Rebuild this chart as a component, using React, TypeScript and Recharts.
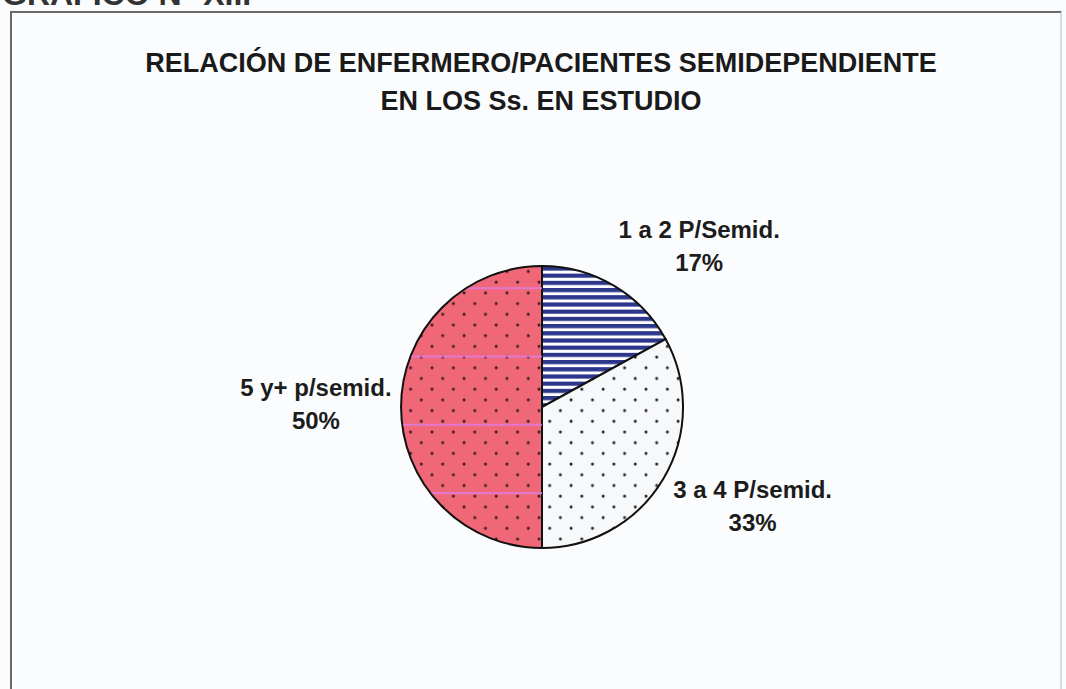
import React from "react";
import { PieChart, Pie, Cell } from "recharts";

const categories = ["1 a 2 P/Semid.", "3 a 4 P/semid.", "5 y+ p/semid."];
const values = [17, 33, 50];
const percentLabels = ["17%", "33%", "50%"];
const titleLines = ["RELACIÓN DE ENFERMERO/PACIENTES SEMIDEPENDIENTE", "EN LOS Ss. EN ESTUDIO"];
const headerText = "GRÁFICO N° XIII";

const data = categories.map((name, i) => ({ name, value: values[i], pct: percentLabels[i] }));

const fills = ["url(#stripes)", "url(#dotsWhite)", "url(#dotsRed)"];
const overlayFills = ["none", "none", "url(#scanLines)"];

const FONT = "'Liberation Sans', Arial, sans-serif";
const LABEL_SIZE = 24;
const LINE_H = 33;

const renderLabel = (props: any) => {
  const { cx, cy, midAngle, outerRadius, index } = props;
  const RAD = Math.PI / 180;
  const r = outerRadius + 11;
  const c = Math.cos(-midAngle * RAD);
  const s = Math.sin(-midAngle * RAD);
  const x = cx + r * c;
  const y = cy + r * s;
  const lines = [data[index].name, data[index].pct];
  const w = Math.max(...lines.map((l) => l.length)) * LABEL_SIZE * 0.475;
  let centerX = x;
  if (c > 0.3) centerX = x + w / 2;
  else if (c < -0.3) centerX = x - w / 2;
  let firstBaseline: number;
  const boxH = LINE_H * 2;
  if (s < -0.3) firstBaseline = y - boxH + 28;
  else if (s > 0.3) firstBaseline = y + 14;
  else firstBaseline = y - LINE_H / 2 + 5;
  return (
    <g key={`lbl-${index}`}>
      {lines.map((l, i) => (
        <text
          key={i}
          x={centerX}
          y={firstBaseline + i * LINE_H}
          textAnchor="middle"
          fontFamily={FONT}
          fontWeight="bold"
          fontSize={LABEL_SIZE}
          fill="#1c1c1c"
        >
          {l}
        </text>
      ))}
    </g>
  );
};

export default function App() {
  return (
    <div
      style={{
        position: "absolute",
        left: 0,
        top: 0,
        width: 1066,
        height: 689,
        background: "#fbfcfd",
        overflow: "hidden",
      }}
    >
      <div
        style={{
          position: "absolute",
          left: 10,
          top: 11,
          width: 1052,
          height: 700,
          border: "2px solid #6a6a6a",
          borderRightColor: "#d8dadd",
          boxSizing: "border-box",
        }}
      />
      <PieChart
        width={1066}
        height={689}
        margin={{ top: 0, right: 0, bottom: 0, left: 0 }}
        style={{ position: "absolute", left: 0, top: 0 }}
      >
        <defs>
          <pattern id="stripes" patternUnits="userSpaceOnUse" width={10} height={7.2}>
            <rect x={0} y={0} width={10} height={7.2} fill="#ffffff" />
            <rect x={0} y={0} width={10} height={4.2} fill="#2c378c" />
          </pattern>
          <pattern id="dotsWhite" patternUnits="userSpaceOnUse" width={21.4} height={21.4}>
            <rect x={0} y={0} width={21.4} height={21.4} fill="#f7f8fa" />
            <circle cx={4} cy={4} r={1.5} fill="#222" />
            <circle cx={14.7} cy={14.7} r={1.5} fill="#222" />
          </pattern>
          <pattern id="dotsRed" patternUnits="userSpaceOnUse" width={21.4} height={21.4}>
            <rect x={0} y={0} width={21.4} height={21.4} fill="#f06878" />
            <circle cx={4} cy={4} r={1.5} fill="#3a1a28" />
            <circle cx={14.7} cy={14.7} r={1.5} fill="#3a1a28" />
          </pattern>
          <pattern id="scanLines" patternUnits="userSpaceOnUse" width={20} height={68.3} y={14}>
            <rect x={0} y={0} width={20} height={2} fill="#e27ae0" opacity={0.85} />
          </pattern>
        </defs>
        <text x={2} y={5} fontFamily={FONT} fontWeight="bold" fontSize={32} fill="#333">
          {headerText}
        </text>
        {titleLines.map((t, i) => (
          <text
            key={i}
            x={541}
            y={72 + i * 38}
            textAnchor="middle"
            fontFamily={FONT}
            fontWeight="bold"
            fontSize={27}
            fill="#1a1a1a"
          >
            {t}
          </text>
        ))}
        <Pie
          data={data}
          dataKey="value"
          nameKey="name"
          cx={542}
          cy={407}
          outerRadius={141}
          startAngle={90}
          endAngle={-270}
          stroke="#111"
          strokeWidth={2}
          isAnimationActive={false}
          labelLine={false}
          label={renderLabel}
        >
          {data.map((d, i) => (
            <Cell key={d.name} fill={fills[i]} />
          ))}
        </Pie>
        <Pie
          data={data}
          dataKey="value"
          nameKey="name"
          cx={542}
          cy={407}
          outerRadius={140}
          startAngle={90}
          endAngle={-270}
          stroke="none"
          isAnimationActive={false}
          labelLine={false}
          label={false}
        >
          {data.map((d, i) => (
            <Cell key={d.name} fill={overlayFills[i]} />
          ))}
        </Pie>
      </PieChart>
    </div>
  );
}
